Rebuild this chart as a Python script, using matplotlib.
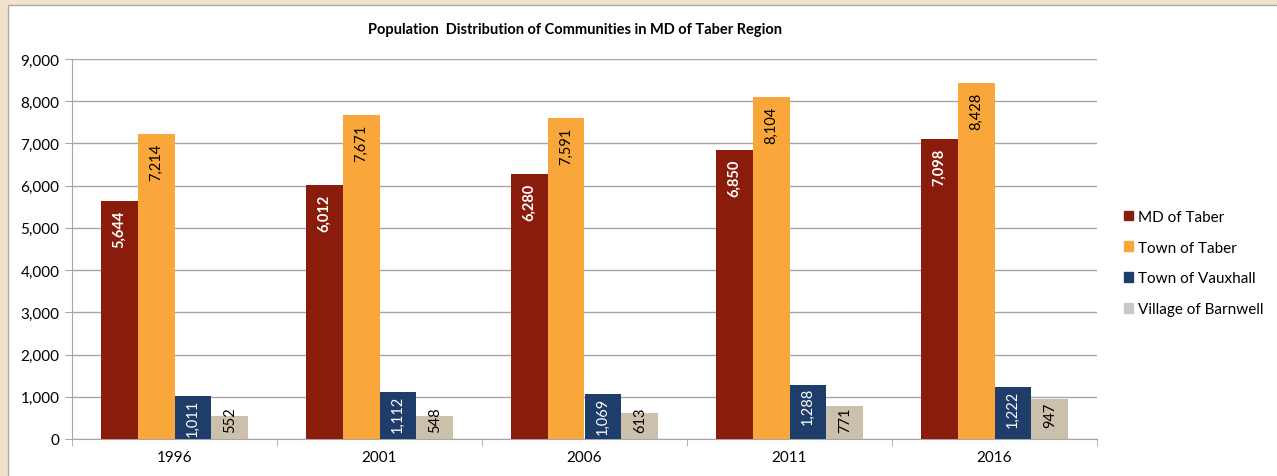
import matplotlib.pyplot as plt
import matplotlib.patches as mpatches
import numpy as np

plt.rcParams['font.family'] = ['Lato', 'DejaVu Sans']

# Data
years = ['1996', '2001', '2006', '2011', '2016']
md_taber = [5644, 6012, 6280, 6850, 7098]
town_taber = [7214, 7671, 7591, 8104, 8428]
town_vauxhall = [1011, 1112, 1069, 1288, 1222]
village_barnwell = [552, 548, 613, 771, 947]

series = [
    ('MD of Taber', md_taber, '#8a1c0c', 'white', 'bold'),
    ('Town of Taber', town_taber, '#f9a73a', 'black', 'normal'),
    ('Town of Vauxhall', town_vauxhall, '#1f3d6a', 'white', 'normal'),
    ('Village of Barnwell', village_barnwell, '#cbc0ab', 'black', 'normal'),
]
legend_colors = ['#8a1c0c', '#f9a73a', '#1f3d6a', '#c8c8c8']

fig = plt.figure(figsize=(12.77, 4.77), dpi=100)
fig.patch.set_facecolor('#f1e2cc')
# white chart panel inside the beige frame
panel = mpatches.Rectangle((8 / 1277, -0.01), 1.0, (477 - 6) / 477 + 0.01,
                           transform=fig.transFigure, facecolor='white',
                           edgecolor='#a8a8a8', linewidth=1.0, zorder=-5)
fig.add_artist(panel)

ax = fig.add_axes([72 / 1277, 37 / 477, (1097 - 72) / 1277, 380 / 477], zorder=2)
ax.set_facecolor('none')

x = np.arange(len(years))
w = 0.18
offsets = [-1.5 * w, -0.5 * w, 0.5 * w, 1.5 * w]

for (name, vals, col, tcol, tweight), off in zip(series, offsets):
    ax.bar(x + off, vals, width=w, color=col, zorder=3, label=name)
    for xi, v in zip(x, vals):
        # inside-end labels, clamped for short bars
        if v > 3000:
            top = v - 200
        elif v > 1000:
            top = v - 60
        else:
            top = max(v - 60, 780)
        ax.text(xi + off, top, f'{v:,}', rotation=90, ha='center', va='top',
                color=tcol, fontsize=10.5, fontweight=tweight, zorder=4)

ax.set_xlim(-0.5, len(years) - 0.5)
ax.set_ylim(0, 9000)
ax.set_yticks(np.arange(0, 9001, 1000))
ax.set_yticklabels([f'{v:,}' for v in range(0, 9001, 1000)], fontsize=11)
ax.yaxis.grid(True, color='#a6a6a6', linewidth=1.0, zorder=0)
ax.set_axisbelow(True)

ax.set_xticks(x)
ax.set_xticklabels(years, fontsize=11)
ax.tick_params(axis='x', length=0, pad=8)
ax.set_xticks(np.arange(-0.5, len(years), 1.0), minor=True)
ax.tick_params(axis='x', which='minor', length=5, color='#a6a6a6', direction='out')
ax.tick_params(axis='y', length=5, color='#a6a6a6', pad=4)

for s in ['top', 'right']:
    ax.spines[s].set_visible(False)
ax.spines['left'].set_color('#a6a6a6')
ax.spines['bottom'].set_color('#a6a6a6')

fig.text(575 / 1277, 1 - 30 / 477, 'Population  Distribution of Communities in MD of Taber Region',
         ha='center', va='center', fontsize=10.5, fontweight='bold')

handles = [mpatches.Patch(color=c, label=s[0]) for c, s in zip(legend_colors, series)]
fig.legend(handles=handles, loc='center left', bbox_to_anchor=(1110 / 1277, 1 - 264 / 477),
           frameon=False, fontsize=11, handlelength=0.6, handleheight=0.6,
           handletextpad=0.3, labelspacing=1.1)

fig.savefig('out.png', dpi=100, facecolor=fig.get_facecolor())
